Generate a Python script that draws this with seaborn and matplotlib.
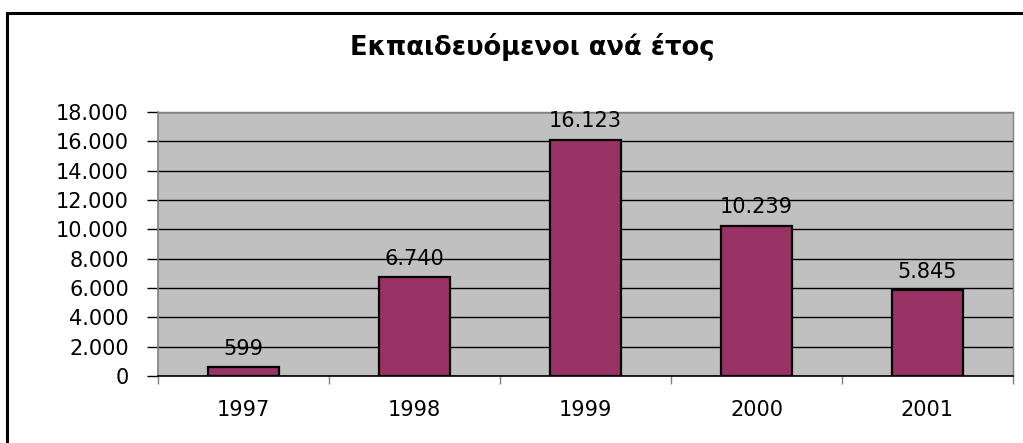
import matplotlib
matplotlib.use("Agg")
import matplotlib.pyplot as plt
import seaborn as sns
import pandas as pd
import numpy as np
from matplotlib.patches import Rectangle
from matplotlib.ticker import FuncFormatter

years = ["1997", "1998", "1999", "2000", "2001"]
trainees = [599, 6740, 16123, 10239, 5845]
title = "Εκπαιδευόμενοι ανά έτος"

sns.set_theme(style="white")
plt.rcParams['font.family'] = ['DejaVu Sans']
plt.rcParams['text.color'] = 'black'
plt.rcParams['xtick.color'] = 'black'
plt.rcParams['ytick.color'] = 'black'

df = pd.DataFrame({"year": years, "n": trainees})

fig = plt.figure(figsize=(10.23, 4.43), dpi=100)
ax = fig.add_axes([158/1023, 1-376/443, (1013-158)/1023, (376-112)/443])
ax.set_facecolor("#C0C0C0")

sns.barplot(data=df, x="year", y="n", color="#993366", width=0.41,
            edgecolor="black", linewidth=1.6, saturation=1, ax=ax, zorder=3)

def fmt(v):
    return f"{int(round(v)):,}".replace(",", ".")

ax.set_ylim(0, 18000)
ax.set_yticks(np.arange(0, 18001, 2000))
ax.yaxis.set_major_formatter(FuncFormatter(lambda v, p: fmt(v)))
ax.set_xlim(-0.5, len(years) - 0.5)
ax.grid(axis="y", color="black", linewidth=1.0, zorder=1)
ax.set_axisbelow(True)
ax.set_xlabel("")
ax.set_ylabel("")

for i, v in enumerate(trainees):
    ax.annotate(fmt(v), (i, v), xytext=(0, 6), textcoords="offset points",
                ha="center", va="bottom", fontsize=15, color="black")

ax.tick_params(axis="y", length=8, width=1, color="black", labelcolor="black",
               pad=13, labelsize=15, left=True)
ax.tick_params(axis="x", which="major", length=0, pad=17, labelsize=15,
               labelcolor="black")
ax.set_xticks(np.arange(-0.5, len(years), 1.0), minor=True)
ax.tick_params(axis="x", which="minor", length=6, width=1, color="#808080",
               bottom=True)

for s in ["top", "right"]:
    ax.spines[s].set_color("#808080")
    ax.spines[s].set_linewidth(1)
ax.spines["left"].set_color("#808080")
ax.spines["bottom"].set_color("black")
ax.spines["left"].set_linewidth(1.2)
ax.spines["bottom"].set_linewidth(1.2)

fig.text(0.52, 1-47/443, title, ha="center", va="center",
         fontsize=18.5, fontweight="bold", color="black")

fig.patches.append(Rectangle((6.5/1023, -0.1), 1.2, 1-13/443 + 0.1,
                             transform=fig.transFigure, fill=False,
                             edgecolor="black", linewidth=2.2))

fig.savefig("out.png", dpi=100)
